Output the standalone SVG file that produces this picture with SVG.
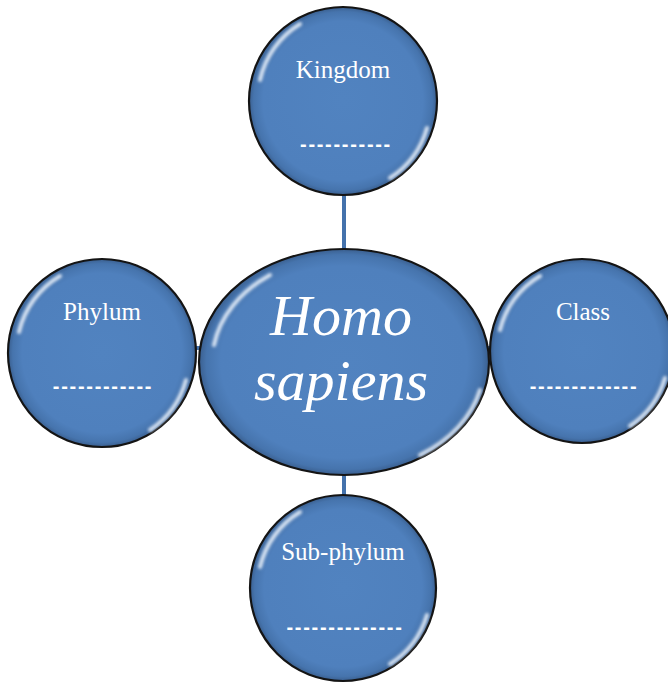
<svg xmlns="http://www.w3.org/2000/svg" width="668" height="683" viewBox="0 0 668 683">
<defs>
<radialGradient id="g" cx="50%" cy="50%" r="50%">
<stop offset="0" stop-color="#5183c0"/>
<stop offset="0.85" stop-color="#4f80bd"/>
<stop offset="0.95" stop-color="#4674ad"/>
<stop offset="1" stop-color="#3a5f8f"/>
</radialGradient>
<filter id="b" x="-10%" y="-10%" width="120%" height="120%"><feGaussianBlur stdDeviation="1.5"/></filter>
</defs>
<style>
.n{fill:url(#g);stroke:#141414;stroke-width:2.2}
.hl{fill:none;stroke:#e8f0fa;stroke-width:4;stroke-linecap:round;opacity:0.9;filter:url(#b)}
.t{font-family:"Liberation Serif","Times New Roman",serif;font-size:25px;fill:#ffffff;text-anchor:middle}
.d{font-family:"Liberation Sans",Arial,sans-serif;font-size:20px;fill:#ffffff;text-anchor:middle;font-weight:bold;letter-spacing:1.7px}
.big{font-family:"Liberation Serif","Times New Roman",serif;font-style:italic;font-size:58px;fill:#ffffff;text-anchor:middle}
.c{stroke:#4472ac;stroke-width:4;fill:none}
</style>
<rect width="668" height="683" fill="#ffffff"/>
<g id="connectors">
<line class="c" x1="344" y1="190" x2="344" y2="255"/>
<line class="c" x1="344" y1="470" x2="344" y2="500"/>
<line class="c" x1="150" y1="348" x2="668" y2="348"/>
</g>
<g id="kingdom">
<circle class="n" cx="343" cy="101" r="94"/>
<path class="hl" d="M260,80 A88,88 0 0 1 300,24"/>
<path class="hl" d="M427,128 A88,88 0 0 1 390,178"/>
<text class="t" x="343" y="78">Kingdom</text>
<text class="d" x="346" y="151">-----------</text>
</g>
<g id="phylum">
<circle class="n" cx="102" cy="353" r="94"/>
<path class="hl" d="M19,332 A88,88 0 0 1 60,276"/>
<path class="hl" d="M186,380 A88,88 0 0 1 150,430"/>
<text class="t" x="102" y="320">Phylum</text>
<text class="d" x="103" y="393">------------</text>
</g>
<g id="class">
<circle class="n" cx="582" cy="351" r="92"/>
<path class="hl" d="M500,330 A86,86 0 0 1 540,276"/>
<path class="hl" d="M665,378 A86,86 0 0 1 630,426"/>
<text class="t" x="583" y="320">Class</text>
<text class="d" x="584" y="393">-------------</text>
</g>
<g id="subphylum">
<circle class="n" cx="343" cy="588" r="93"/>
<path class="hl" d="M260,567 A88,88 0 0 1 300,512"/>
<path class="hl" d="M427,615 A88,88 0 0 1 390,664"/>
<text class="t" x="343" y="560">Sub-phylum</text>
<text class="d" x="345" y="634">--------------</text>
</g>
<g id="homo-sapiens">
<ellipse class="n" cx="344" cy="362" rx="145" ry="113"/>
<path class="hl" d="M214,345 A138,106 0 0 1 270,275"/>
<path class="hl" d="M480,390 A138,106 0 0 1 420,455"/>
<text class="big" x="341" y="335">Homo</text>
<text class="big" x="341" y="400">sapiens</text>
</g>
</svg>
